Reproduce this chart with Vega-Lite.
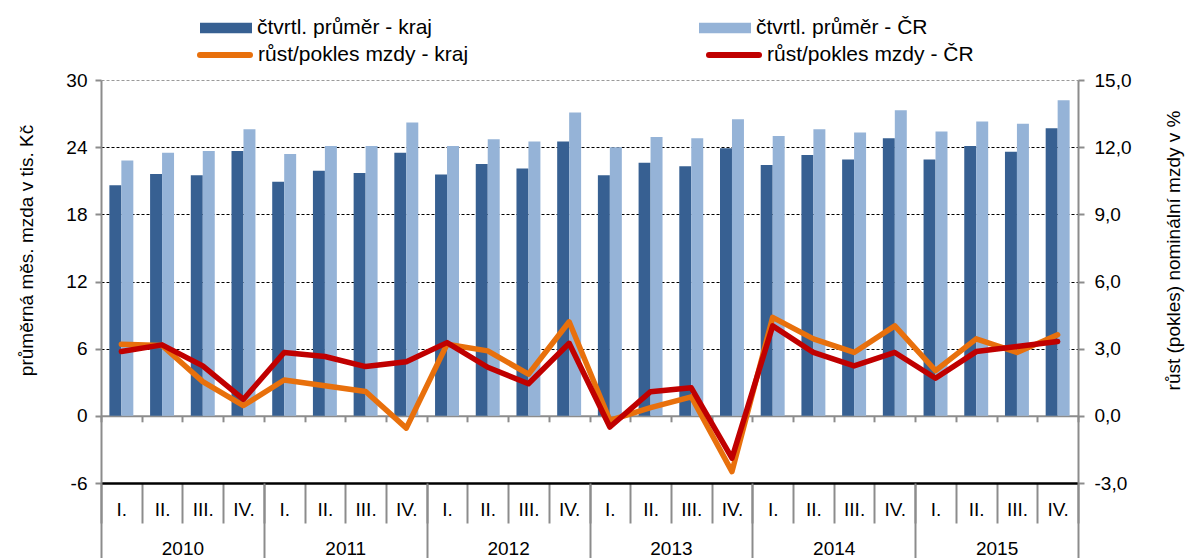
{
  "$schema": "https://vega.github.io/schema/vega-lite/v6.json",
  "autosize": "none",
  "width": 977,
  "height": 403,
  "padding": {"left": 101, "top": 80, "right": 109, "bottom": 75},
  "background": "white",
  "config": {
    "view": {"stroke": null},
    "font": "Liberation Sans",
    "axis": {"labelFont": "Liberation Sans", "titleFont": "Liberation Sans"},
    "legend": {"labelFont": "Liberation Sans"}
  },
  "datasets": {
    "prumer": [
      {"ctvrtleti": "2010 I.", "rada": "čtvrtl. průměr - kraj", "hodnota": 20.6},
      {"ctvrtleti": "2010 II.", "rada": "čtvrtl. průměr - kraj", "hodnota": 21.6},
      {"ctvrtleti": "2010 III.", "rada": "čtvrtl. průměr - kraj", "hodnota": 21.5},
      {"ctvrtleti": "2010 IV.", "rada": "čtvrtl. průměr - kraj", "hodnota": 23.65},
      {"ctvrtleti": "2011 I.", "rada": "čtvrtl. průměr - kraj", "hodnota": 20.9},
      {"ctvrtleti": "2011 II.", "rada": "čtvrtl. průměr - kraj", "hodnota": 21.9},
      {"ctvrtleti": "2011 III.", "rada": "čtvrtl. průměr - kraj", "hodnota": 21.7},
      {"ctvrtleti": "2011 IV.", "rada": "čtvrtl. průměr - kraj", "hodnota": 23.5},
      {"ctvrtleti": "2012 I.", "rada": "čtvrtl. průměr - kraj", "hodnota": 21.55},
      {"ctvrtleti": "2012 II.", "rada": "čtvrtl. průměr - kraj", "hodnota": 22.5},
      {"ctvrtleti": "2012 III.", "rada": "čtvrtl. průměr - kraj", "hodnota": 22.1},
      {"ctvrtleti": "2012 IV.", "rada": "čtvrtl. průměr - kraj", "hodnota": 24.5},
      {"ctvrtleti": "2013 I.", "rada": "čtvrtl. průměr - kraj", "hodnota": 21.5},
      {"ctvrtleti": "2013 II.", "rada": "čtvrtl. průměr - kraj", "hodnota": 22.6},
      {"ctvrtleti": "2013 III.", "rada": "čtvrtl. průměr - kraj", "hodnota": 22.3},
      {"ctvrtleti": "2013 IV.", "rada": "čtvrtl. průměr - kraj", "hodnota": 23.9},
      {"ctvrtleti": "2014 I.", "rada": "čtvrtl. průměr - kraj", "hodnota": 22.4},
      {"ctvrtleti": "2014 II.", "rada": "čtvrtl. průměr - kraj", "hodnota": 23.3},
      {"ctvrtleti": "2014 III.", "rada": "čtvrtl. průměr - kraj", "hodnota": 22.9},
      {"ctvrtleti": "2014 IV.", "rada": "čtvrtl. průměr - kraj", "hodnota": 24.8},
      {"ctvrtleti": "2015 I.", "rada": "čtvrtl. průměr - kraj", "hodnota": 22.9},
      {"ctvrtleti": "2015 II.", "rada": "čtvrtl. průměr - kraj", "hodnota": 24.1},
      {"ctvrtleti": "2015 III.", "rada": "čtvrtl. průměr - kraj", "hodnota": 23.6},
      {"ctvrtleti": "2015 IV.", "rada": "čtvrtl. průměr - kraj", "hodnota": 25.7},
      {"ctvrtleti": "2010 I.", "rada": "čtvrtl. průměr - ČR", "hodnota": 22.8},
      {"ctvrtleti": "2010 II.", "rada": "čtvrtl. průměr - ČR", "hodnota": 23.5},
      {"ctvrtleti": "2010 III.", "rada": "čtvrtl. průměr - ČR", "hodnota": 23.65},
      {"ctvrtleti": "2010 IV.", "rada": "čtvrtl. průměr - ČR", "hodnota": 25.6},
      {"ctvrtleti": "2011 I.", "rada": "čtvrtl. průměr - ČR", "hodnota": 23.4},
      {"ctvrtleti": "2011 II.", "rada": "čtvrtl. průměr - ČR", "hodnota": 24.1},
      {"ctvrtleti": "2011 III.", "rada": "čtvrtl. průměr - ČR", "hodnota": 24.1},
      {"ctvrtleti": "2011 IV.", "rada": "čtvrtl. průměr - ČR", "hodnota": 26.2},
      {"ctvrtleti": "2012 I.", "rada": "čtvrtl. průměr - ČR", "hodnota": 24.1},
      {"ctvrtleti": "2012 II.", "rada": "čtvrtl. průměr - ČR", "hodnota": 24.7},
      {"ctvrtleti": "2012 III.", "rada": "čtvrtl. průměr - ČR", "hodnota": 24.5},
      {"ctvrtleti": "2012 IV.", "rada": "čtvrtl. průměr - ČR", "hodnota": 27.1},
      {"ctvrtleti": "2013 I.", "rada": "čtvrtl. průměr - ČR", "hodnota": 24.0},
      {"ctvrtleti": "2013 II.", "rada": "čtvrtl. průměr - ČR", "hodnota": 24.9},
      {"ctvrtleti": "2013 III.", "rada": "čtvrtl. průměr - ČR", "hodnota": 24.8},
      {"ctvrtleti": "2013 IV.", "rada": "čtvrtl. průměr - ČR", "hodnota": 26.5},
      {"ctvrtleti": "2014 I.", "rada": "čtvrtl. průměr - ČR", "hodnota": 25.0},
      {"ctvrtleti": "2014 II.", "rada": "čtvrtl. průměr - ČR", "hodnota": 25.6},
      {"ctvrtleti": "2014 III.", "rada": "čtvrtl. průměr - ČR", "hodnota": 25.3},
      {"ctvrtleti": "2014 IV.", "rada": "čtvrtl. průměr - ČR", "hodnota": 27.3},
      {"ctvrtleti": "2015 I.", "rada": "čtvrtl. průměr - ČR", "hodnota": 25.4},
      {"ctvrtleti": "2015 II.", "rada": "čtvrtl. průměr - ČR", "hodnota": 26.3},
      {"ctvrtleti": "2015 III.", "rada": "čtvrtl. průměr - ČR", "hodnota": 26.1},
      {"ctvrtleti": "2015 IV.", "rada": "čtvrtl. průměr - ČR", "hodnota": 28.2}
    ],
    "rust": [
      {"ctvrtleti": "2010 I.", "serie": "růst/pokles mzdy - kraj", "hodnota": 3.2},
      {"ctvrtleti": "2010 II.", "serie": "růst/pokles mzdy - kraj", "hodnota": 3.14},
      {"ctvrtleti": "2010 III.", "serie": "růst/pokles mzdy - kraj", "hodnota": 1.53},
      {"ctvrtleti": "2010 IV.", "serie": "růst/pokles mzdy - kraj", "hodnota": 0.46},
      {"ctvrtleti": "2011 I.", "serie": "růst/pokles mzdy - kraj", "hodnota": 1.6},
      {"ctvrtleti": "2011 II.", "serie": "růst/pokles mzdy - kraj", "hodnota": 1.34},
      {"ctvrtleti": "2011 III.", "serie": "růst/pokles mzdy - kraj", "hodnota": 1.09},
      {"ctvrtleti": "2011 IV.", "serie": "růst/pokles mzdy - kraj", "hodnota": -0.55},
      {"ctvrtleti": "2012 I.", "serie": "růst/pokles mzdy - kraj", "hodnota": 3.2},
      {"ctvrtleti": "2012 II.", "serie": "růst/pokles mzdy - kraj", "hodnota": 2.9},
      {"ctvrtleti": "2012 III.", "serie": "růst/pokles mzdy - kraj", "hodnota": 1.86},
      {"ctvrtleti": "2012 IV.", "serie": "růst/pokles mzdy - kraj", "hodnota": 4.2},
      {"ctvrtleti": "2013 I.", "serie": "růst/pokles mzdy - kraj", "hodnota": -0.2},
      {"ctvrtleti": "2013 II.", "serie": "růst/pokles mzdy - kraj", "hodnota": 0.37},
      {"ctvrtleti": "2013 III.", "serie": "růst/pokles mzdy - kraj", "hodnota": 0.85},
      {"ctvrtleti": "2013 IV.", "serie": "růst/pokles mzdy - kraj", "hodnota": -2.49},
      {"ctvrtleti": "2014 I.", "serie": "růst/pokles mzdy - kraj", "hodnota": 4.4},
      {"ctvrtleti": "2014 II.", "serie": "růst/pokles mzdy - kraj", "hodnota": 3.44},
      {"ctvrtleti": "2014 III.", "serie": "růst/pokles mzdy - kraj", "hodnota": 2.83},
      {"ctvrtleti": "2014 IV.", "serie": "růst/pokles mzdy - kraj", "hodnota": 4.02},
      {"ctvrtleti": "2015 I.", "serie": "růst/pokles mzdy - kraj", "hodnota": 2.02},
      {"ctvrtleti": "2015 II.", "serie": "růst/pokles mzdy - kraj", "hodnota": 3.44},
      {"ctvrtleti": "2015 III.", "serie": "růst/pokles mzdy - kraj", "hodnota": 2.83},
      {"ctvrtleti": "2015 IV.", "serie": "růst/pokles mzdy - kraj", "hodnota": 3.62},
      {"ctvrtleti": "2010 I.", "serie": "růst/pokles mzdy - ČR", "hodnota": 2.87},
      {"ctvrtleti": "2010 II.", "serie": "růst/pokles mzdy - ČR", "hodnota": 3.17},
      {"ctvrtleti": "2010 III.", "serie": "růst/pokles mzdy - ČR", "hodnota": 2.23},
      {"ctvrtleti": "2010 IV.", "serie": "růst/pokles mzdy - ČR", "hodnota": 0.74},
      {"ctvrtleti": "2011 I.", "serie": "růst/pokles mzdy - ČR", "hodnota": 2.83},
      {"ctvrtleti": "2011 II.", "serie": "růst/pokles mzdy - ČR", "hodnota": 2.65},
      {"ctvrtleti": "2011 III.", "serie": "růst/pokles mzdy - ČR", "hodnota": 2.2},
      {"ctvrtleti": "2011 IV.", "serie": "růst/pokles mzdy - ČR", "hodnota": 2.42},
      {"ctvrtleti": "2012 I.", "serie": "růst/pokles mzdy - ČR", "hodnota": 3.27},
      {"ctvrtleti": "2012 II.", "serie": "růst/pokles mzdy - ČR", "hodnota": 2.17},
      {"ctvrtleti": "2012 III.", "serie": "růst/pokles mzdy - ČR", "hodnota": 1.43},
      {"ctvrtleti": "2012 IV.", "serie": "růst/pokles mzdy - ČR", "hodnota": 3.24},
      {"ctvrtleti": "2013 I.", "serie": "růst/pokles mzdy - ČR", "hodnota": -0.5},
      {"ctvrtleti": "2013 II.", "serie": "růst/pokles mzdy - ČR", "hodnota": 1.08},
      {"ctvrtleti": "2013 III.", "serie": "růst/pokles mzdy - ČR", "hodnota": 1.25},
      {"ctvrtleti": "2013 IV.", "serie": "růst/pokles mzdy - ČR", "hodnota": -1.89},
      {"ctvrtleti": "2014 I.", "serie": "růst/pokles mzdy - ČR", "hodnota": 4.02},
      {"ctvrtleti": "2014 II.", "serie": "růst/pokles mzdy - ČR", "hodnota": 2.83},
      {"ctvrtleti": "2014 III.", "serie": "růst/pokles mzdy - ČR", "hodnota": 2.23},
      {"ctvrtleti": "2014 IV.", "serie": "růst/pokles mzdy - ČR", "hodnota": 2.83},
      {"ctvrtleti": "2015 I.", "serie": "růst/pokles mzdy - ČR", "hodnota": 1.68},
      {"ctvrtleti": "2015 II.", "serie": "růst/pokles mzdy - ČR", "hodnota": 2.87},
      {"ctvrtleti": "2015 III.", "serie": "růst/pokles mzdy - ČR", "hodnota": 3.1},
      {"ctvrtleti": "2015 IV.", "serie": "růst/pokles mzdy - ČR", "hodnota": 3.32}
    ],
    "roky": [
      {"rok": "2010"}, {"rok": "2011"}, {"rok": "2012"},
      {"rok": "2013"}, {"rok": "2014"}, {"rok": "2015"}
    ]
  },
  "layer": [
    {
      "data": {"name": "prumer"},
      "mark": {"type": "bar"},
      "encoding": {
        "x": {
          "field": "ctvrtleti", "type": "nominal", "sort": null,
          "scale": {"paddingInner": 0, "paddingOuter": 0},
          "axis": {
            "orient": "bottom", "title": null,
            "labelExpr": "split(datum.label, ' ')[1]",
            "labelAngle": 0, "labelFontSize": 19, "labelColor": "black",
            "labelBaseline": "middle", "labelPadding": -14, "labelOverlap": false,
            "tickBand": "extent", "tickSize": 40, "tickColor": "#8c8c8c", "tickWidth": 2,
            "domainColor": "black", "domainWidth": 2.5, "grid": false
          }
        },
        "xOffset": {
          "field": "rada", "type": "nominal",
          "sort": ["čtvrtl. průměr - kraj", "čtvrtl. průměr - ČR"],
          "scale": {"paddingInner": 0, "paddingOuter": 0.7}
        },
        "y": {
          "field": "hodnota", "type": "quantitative",
          "scale": {"domain": [-6, 30], "nice": false, "zero": false},
          "axis": {
            "orient": "left", "values": [-6, 0, 6, 12, 18, 24, 30],
            "labelExpr": "'' + datum.value",
            "title": "průměrná měs. mzda v tis. Kč",
            "titleFontSize": 19, "titleFontWeight": "normal", "titleColor": "black",
            "titleAngle": 270, "titleX": -75, "titleY": 170,
            "titleAlign": "center", "titleBaseline": "middle",
            "labelFontSize": 19, "labelColor": "black", "labelPadding": 8,
            "tickSize": 6, "tickColor": "#8c8c8c", "tickWidth": 2,
            "domainColor": "#8c8c8c", "domainWidth": 2,
            "grid": true,
            "gridColor": {"condition": {"test": "datum.value == 30", "value": "#9a9a9a"}, "value": "black"},
            "gridDash": [3, 2], "gridWidth": 1
          }
        },
        "fill": {
          "field": "rada", "type": "nominal",
          "scale": {"domain": ["čtvrtl. průměr - kraj", "čtvrtl. průměr - ČR"], "range": ["#376092", "#95b3d7"]},
          "legend": {
            "orient": "none", "legendX": 99, "legendY": -78, "direction": "horizontal",
            "title": null, "padding": 0,
            "symbolType": "M-1,-0.2H1V0.2H-1Z", "symbolSize": 2704, "symbolStrokeWidth": 0,
            "symbolOpacity": 1,
            "labelFontSize": 21, "labelColor": "black", "labelOffset": 5, "labelLimit": 500,
            "columnPadding": 266
          }
        }
      }
    },
    {
      "data": {"name": "rust"},
      "mark": {"type": "line", "strokeWidth": 5.5, "strokeCap": "round", "strokeJoin": "round"},
      "encoding": {
        "x": {
          "field": "ctvrtleti", "type": "nominal", "sort": null,
          "scale": {"paddingInner": 0, "paddingOuter": 0},
          "axis": {
            "orient": "bottom", "offset": -67.2, "title": null, "labels": false,
            "tickBand": "extent", "tickSize": 6, "tickColor": "#8c8c8c", "tickWidth": 2,
            "domainColor": "#8c8c8c", "domainWidth": 2, "grid": false
          }
        },
        "y": {
          "field": "hodnota", "type": "quantitative",
          "scale": {"domain": [-3, 15], "nice": false, "zero": false},
          "axis": {
            "orient": "right", "values": [-3, 0, 3, 6, 9, 12, 15],
            "labelExpr": "replace(replace(format(datum.value, '.1f'), '.', ','), '\u2212', '-')",
            "title": "růst (pokles) nominální mzdy v %",
            "titleFontSize": 19, "titleFontWeight": "normal", "titleColor": "black",
            "titleAngle": 270, "titleX": 95, "titleY": 170,
            "titleAlign": "center", "titleBaseline": "middle",
            "labelFontSize": 19, "labelColor": "black", "labelPadding": 10,
            "tickSize": 6, "tickColor": "#8c8c8c", "tickWidth": 2,
            "domainColor": "#8c8c8c", "domainWidth": 2, "grid": false
          }
        },
        "stroke": {
          "field": "serie", "type": "nominal",
          "scale": {"domain": ["růst/pokles mzdy - kraj", "růst/pokles mzdy - ČR"], "range": ["#e8700c", "#c00000"]},
          "legend": {
            "orient": "none", "legendX": 96, "legendY": -53, "direction": "horizontal",
            "title": null, "padding": 0,
            "symbolType": "stroke", "symbolSize": 2500, "symbolStrokeWidth": 6,
            "labelFontSize": 21, "labelColor": "black", "labelOffset": 5, "labelLimit": 500,
            "columnPadding": 228,
            "encode": {"symbols": {"update": {"strokeCap": {"value": "round"}}}}
          }
        }
      }
    },
    {
      "data": {"name": "roky"},
      "mark": {"type": "tick", "opacity": 0},
      "encoding": {
        "x": {
          "field": "rok", "type": "nominal", "sort": null,
          "scale": {"paddingInner": 0, "paddingOuter": 0},
          "axis": {
            "orient": "bottom", "title": null,
            "labelAngle": 0, "labelFontSize": 19, "labelColor": "black",
            "labelBaseline": "middle", "labelPadding": -10, "labelOverlap": false,
            "tickBand": "extent", "tickSize": 75, "tickColor": "#8c8c8c", "tickWidth": 2,
            "domain": false, "grid": false
          }
        }
      }
    }
  ],
  "resolve": {
    "scale": {"x": "independent", "y": "independent", "fill": "independent", "stroke": "independent"},
    "axis": {"x": "independent", "y": "independent"}
  }
}
